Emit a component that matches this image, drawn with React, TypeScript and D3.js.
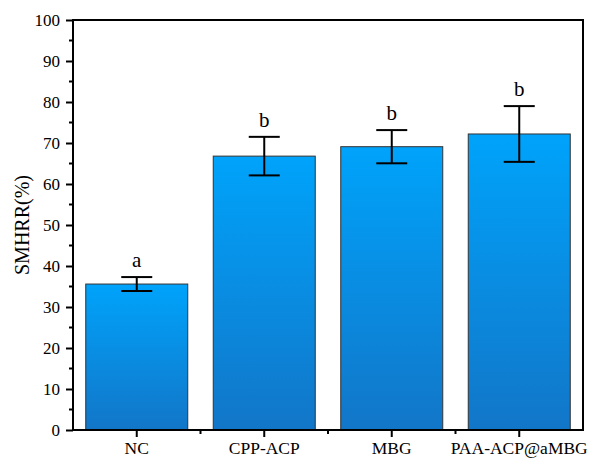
import { useEffect, useRef } from 'react'
import * as d3 from 'd3'

const groups = ['NC', 'CPP-ACP', 'MBG', 'PAA-ACP@aMBG']
const means = [35.6, 66.8, 69.1, 72.2]
const errors = [1.7, 4.7, 4.05, 6.8]
const letters = ['a', 'b', 'b', 'b']
const yTicks = [0, 10, 20, 30, 40, 50, 60, 70, 80, 90, 100]

const W = 589
const H = 459
const FONT = '"Liberation Serif", "Times New Roman", serif'

export default function App() {
  const svgRef = useRef<SVGSVGElement>(null)

  useEffect(() => {
    if (!svgRef.current) return
    const svg = d3.select(svgRef.current)
    svg.selectAll('*').remove()

    const margin = { top: 20, right: 6, bottom: 29, left: 73 }
    const innerWidth = W - margin.left - margin.right
    const innerHeight = H - margin.top - margin.bottom

    const defs = svg.append('defs')
    const grad = defs
      .append('linearGradient')
      .attr('id', 'barGrad')
      .attr('x1', '0%')
      .attr('x2', '0%')
      .attr('y1', '0%')
      .attr('y2', '100%')
    grad.append('stop').attr('offset', '0%').attr('stop-color', '#00a3fb')
    grad.append('stop').attr('offset', '100%').attr('stop-color', '#1276c8')

    const g = svg.append('g').attr('transform', `translate(${margin.left},${margin.top})`)

    const x = d3.scaleBand().domain(groups).range([0, innerWidth]).paddingInner(0.2).paddingOuter(0.1)
    const y = d3.scaleLinear().domain([0, 100]).range([innerHeight, 0])

    // bars
    g.selectAll('rect.bar')
      .data(groups)
      .join('rect')
      .attr('class', 'bar')
      .attr('x', d => x(d) as number)
      .attr('y', (d, i) => y(means[i]))
      .attr('width', x.bandwidth())
      .attr('height', (d, i) => innerHeight - y(means[i]))
      .attr('fill', 'url(#barGrad)')
      .attr('stroke', '#333')
      .attr('stroke-width', 1)

    // error bars + significance letters
    const capW = 31
    groups.forEach((d, i) => {
      const cx = (x(d) as number) + x.bandwidth() / 2
      const top = y(means[i] + errors[i])
      const bot = y(means[i] - errors[i])
      const eg = g.append('g').attr('stroke', '#000').attr('stroke-width', 2)
      eg.append('line').attr('x1', cx).attr('x2', cx).attr('y1', top).attr('y2', bot)
      eg.append('line').attr('x1', cx - capW / 2).attr('x2', cx + capW / 2).attr('y1', top).attr('y2', top)
      eg.append('line').attr('x1', cx - capW / 2).attr('x2', cx + capW / 2).attr('y1', bot).attr('y2', bot)
      g.append('text')
        .attr('x', cx)
        .attr('y', top - 10)
        .attr('text-anchor', 'middle')
        .style('font-family', FONT)
        .style('font-size', '21px')
        .text(letters[i])
    })

    // frame
    g.append('rect')
      .attr('x', 0)
      .attr('y', 0)
      .attr('width', innerWidth)
      .attr('height', innerHeight)
      .attr('fill', 'none')
      .attr('stroke', '#000')
      .attr('stroke-width', 2)

    // y axis
    const yAxis = g.append('g').call(
      d3.axisLeft(y).tickValues(yTicks).tickSize(7).tickPadding(6).tickFormat(d3.format('d'))
    )
    yAxis.select('.domain').remove()
    yAxis.selectAll('.tick line').attr('stroke-width', 2)
    yAxis.selectAll('text').style('font-family', FONT).style('font-size', '17px').attr('fill', '#000')

    const minorY = d3.range(5, 100, 10)
    g.selectAll('line.minor-y')
      .data(minorY)
      .join('line')
      .attr('x1', -4)
      .attr('x2', 0)
      .attr('y1', d => y(d))
      .attr('y2', d => y(d))
      .attr('stroke', '#000')
      .attr('stroke-width', 2)

    // x axis
    const xAxis = g
      .append('g')
      .attr('transform', `translate(0,${innerHeight})`)
      .call(d3.axisBottom(x).tickSize(7).tickPadding(5))
    xAxis.select('.domain').remove()
    xAxis.selectAll('.tick line').attr('stroke-width', 2)
    xAxis.selectAll('text').style('font-family', FONT).style('font-size', '17.5px').attr('fill', '#000')

    const step = x.step()
    const minorX = groups.slice(1).map(d => (x(d) as number) - (step - x.bandwidth()) / 2)
    g.selectAll('line.minor-x')
      .data(minorX)
      .join('line')
      .attr('x1', d => d)
      .attr('x2', d => d)
      .attr('y1', innerHeight)
      .attr('y2', innerHeight + 4)
      .attr('stroke', '#000')
      .attr('stroke-width', 2)

    // y label
    svg
      .append('text')
      .attr('transform', `translate(29,${margin.top + innerHeight / 2}) rotate(-90)`)
      .attr('text-anchor', 'middle')
      .style('font-family', FONT)
      .style('font-size', '20px')
      .text('SMHRR(%)')
  }, [])

  return (
    <div style={{ width: W, height: H }}>
      <svg ref={svgRef} width={W} height={H} style={{ display: 'block', position: 'absolute', left: 0, top: 0, background: '#fff' }} />
    </div>
  )
}
